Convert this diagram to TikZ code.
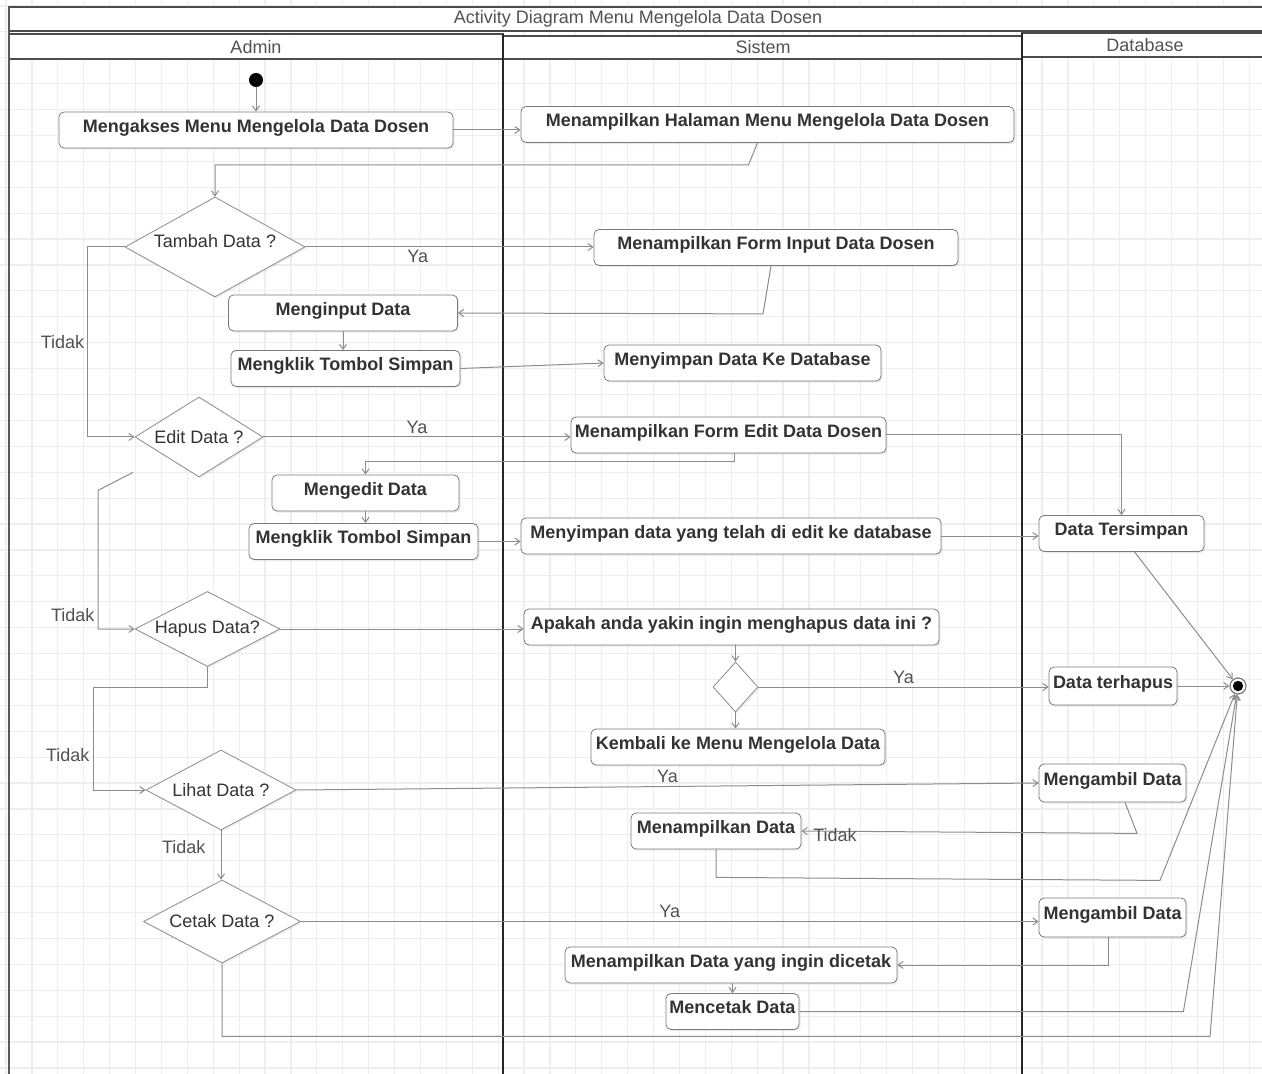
\documentclass[tikz,border=0pt]{standalone}
\usepackage{fontspec}
\setmainfont{Liberation Sans}
\usetikzlibrary{arrows.meta,shapes.geometric,calc,shadows}
\definecolor{gridc}{HTML}{EEEEEE}
\definecolor{linec}{HTML}{8C8C8C}
\definecolor{boxc}{HTML}{7A7A7A}
\definecolor{txtc}{HTML}{333333}
\tikzset{
    act/.style={draw=boxc, fill=white, rounded corners=2.5pt, inner sep=1pt, minimum height=18pt,
        text height=6.6pt, text depth=4.4pt,
        font=\bfseries\fontsize{9}{11}\selectfont, text=txtc,
        drop shadow={opacity=0.15, shadow xshift=0.8pt, shadow yshift=-0.8pt}},
    dec/.style={diamond, draw=linec, fill=white, inner sep=0pt, aspect=1.8,
        font=\fontsize{9}{11}\selectfont, text=txtc,
        drop shadow={opacity=0.12, shadow xshift=0.8pt, shadow yshift=-0.8pt}},
    flow/.style={draw=linec, line width=0.5pt, -{Straight Barb[length=2.5pt,width=3.5pt]}},
    lbl/.style={font=\fontsize{9}{11}\selectfont, text=txtc!85, inner sep=1.5pt},
    lane/.style={draw=black!85, line width=1pt},
    hdr/.style={draw=black!70, line width=0.8pt, fill=white},
}
\begin{document}
\begin{tikzpicture}[x=0.5pt, y=-0.5pt]
    \useasboundingbox (0,0) rectangle (1262,1074);
    \fill[white] (0,0) rectangle (1262,1074);
    \foreach \i in {0,...,48}
        \draw[gridc, line width=0.6pt] ({6+25.9*\i},0) -- ({6+25.9*\i},1074);
    \foreach \i in {0,...,41}
        \draw[gridc, line width=0.6pt] (0,{6+25.9*\i}) -- (1262,{6+25.9*\i});

    \draw[hdr] (9,7) rectangle (1280,31);
    \draw[hdr] (9,34) rectangle (503,59);
    \draw[hdr] (503,36) rectangle (1022,59);
    \draw[hdr] (1022,33) rectangle (1280,57);
    \node[lbl] (Judul) at (638,19) {Activity Diagram Menu Mengelola Data Dosen};
    \node[lbl] (Admin) at (256,47) {Admin};
    \node[lbl] (Sistem) at (763,47) {Sistem};
    \node[lbl] (Database) at (1145,45) {Database};
    \draw[lane, draw=black!65] (9,7) -- (9,1080);
    \draw[lane] (503,34) -- (503,1080);
    \draw[lane] (1022,33) -- (1022,1080);

    \node[circle, fill=black, minimum size=7pt, inner sep=0pt] (Start) at (256,80) {};
    \node[act, minimum width=197pt] (A1) at (256,130) {Mengakses Menu Mengelola Data Dosen};
    \node[act, minimum width=246.5pt] (S1) at (767.5,124.5) {Menampilkan Halaman Menu Mengelola Data Dosen};
    \node[dec, minimum width=90pt, minimum height=50pt] (K1) at (215,247) {\raisebox{6pt}{Tambah Data ?}};
    \node[act, minimum width=182pt] (S2) at (776,247.5) {Menampilkan Form Input Data Dosen};
    \node[act, minimum width=114.5pt] (A2) at (343,313) {Menginput Data};
    \node[act, minimum width=114.5pt] (A3) at (345.5,368.5) {Mengklik Tombol Simpan};
    \node[act, minimum width=138.5pt] (S3) at (742.5,363) {Menyimpan Data Ke Database};
    \node[dec, minimum width=64pt, minimum height=40pt] (K2) at (199,437) {Edit Data ?};
    \node[act, minimum width=157.5pt] (S4) at (728.5,435) {Menampilkan Form Edit Data Dosen};
    \node[act, minimum width=93.5pt] (A4) at (365.5,493) {Mengedit Data};
    \node[act, minimum width=114.5pt] (A5) at (363.5,541.5) {Mengklik Tombol Simpan};
    \node[act, minimum width=210pt] (S5) at (731,536) {Menyimpan data yang telah di edit ke database};
    \node[act, minimum width=82.5pt] (B1) at (1121.5,533.5) {Data Tersimpan};
    \node[dec, minimum width=72.5pt, minimum height=37.5pt] (K3) at (207.5,629) {Hapus Data?};
    \node[act, minimum width=207.5pt] (S6) at (731.5,627) {Apakah anda yakin ingin menghapus data ini ?};
    \node[dec, minimum width=22.5pt, minimum height=25pt] (K6) at (735.5,687) {};
    \node[act, minimum width=64pt, minimum height=19pt] (B2) at (1113,686) {Data terhapus};
    \node[act, minimum width=147pt] (S7) at (738,747) {Kembali ke Menu Mengelola Data};
    \node[circle, draw=boxc, fill=white, minimum size=8pt, inner sep=0pt, line width=0.6pt] (End) at (1238,686) {};
    \fill[black] (End) circle (2.6pt);
    \node[dec, minimum width=75pt, minimum height=40pt] (K4) at (221,790) {Lihat Data ?};
    \node[act, minimum width=73.5pt, minimum height=19pt] (B3) at (1112.5,783) {Mengambil Data};
    \node[act, minimum width=85pt] (S8) at (716,831) {Menampilkan Data};
    \node[dec, minimum width=78.5pt, minimum height=41.5pt] (K5) at (222,921.5) {Cetak Data ?};
    \node[act, minimum width=73.5pt, minimum height=19.5pt] (B4) at (1112.5,917.5) {Mengambil Data};
    \node[act, minimum width=166pt] (S9) at (731,965) {Menampilkan Data yang ingin dicetak};
    \node[act, minimum width=66.5pt] (S10) at (732.5,1011.5) {Mencetak Data};

    \draw[flow] (Start) -- (A1);
    \draw[flow] (A1.east) -- (A1.east -| S1.west);
    \draw[flow] ($(S1.south)+(-10,0)$) -- ++(-9,22) -| (K1.north);
    \draw[flow] (K1.east) -- node[lbl, below, pos=0.39] {Ya} (K1.east -| S2.west);
    \draw[flow] ($(S2.south)+(-5,0)$) -- ++(-8,48) -- (A2.east);
    \draw[flow] (A2.south) -- (A2.south |- A3.north);
    \draw[flow] (A3.east) -- (S3.west);
    \draw[flow] (K1.west) -- ++(-37,0) |- node[lbl, left, pos=0.25] {Tidak} (K2.west);
    \draw[flow] (K2.east) -- node[lbl, above, pos=0.5] {Ya} (K2.east -| S4.west);
    \draw[flow] ($(S4.south)+(5.5,0)$) -- ++(0,8) -| (A4.north);
    \draw[flow] (S4.east) -| (B1.north);
    \draw[flow] (A4.south) -- (A4.south |- A5.north);
    \draw[flow] (A5.east) -- (A5.east -| S5.west);
    \draw[flow] (S5.east) -- (S5.east -| B1.west);
    \draw[flow] ($(B1.south)+(13,0)$) -- (End);
    \draw[flow] ($(K2.south)+(-66,-5)$) -- ++(-35,18) |- node[lbl, left, pos=0.45] {Tidak} (K3.west);
    \draw[flow] (K3.east) -- (K3.east -| S6.west);
    \draw[flow] (K6.north |- S6.south) -- (K6.north);
    \draw[flow] (K6.east) -- node[lbl, above, pos=0.5] {Ya} (K6.east -| B2.west);
    \draw[flow] (B2.east) -- (End);
    \draw[flow] (K6.south) -- (K6.south |- S7.north);
    \draw[flow] (K3.south) -- ++(0,21) -- ++(-114.5,0) |- node[lbl, left, pos=0.33] {Tidak} (K4.west);
    \draw[flow] (K4.east) -- node[lbl, above, pos=0.5] {Ya} (B3.west);
    \draw[flow] ($(B3.south)+(12.5,0)$) -- ++(12,31) -- node[lbl, pos=0.9, yshift=-2pt] {Tidak} (S8.east);
    \draw[flow] (S8.south) -- ++(0,28) -- ++(444,3) -- (End);
    \draw[flow] (K4.south) -- node[lbl, left=6pt, pos=0.34] {Tidak} (K4.south |- K5.north);
    \draw[flow] (K5.east) -- node[lbl, above, pos=0.5] {Ya} (K5.east -| B4.west);
    \draw[flow] ($(B4.south)+(-4.5,0)$) |- (S9.east);
    \draw[flow] (S9.south -| S10.north) -- (S10.north);
    \draw[flow] (S10.east) -- ++(384,0) -- (End);
    \draw[flow] (K5.south) -- ++(0,73) -- ++(988,0) -- (End);
\end{tikzpicture}
\end{document}
